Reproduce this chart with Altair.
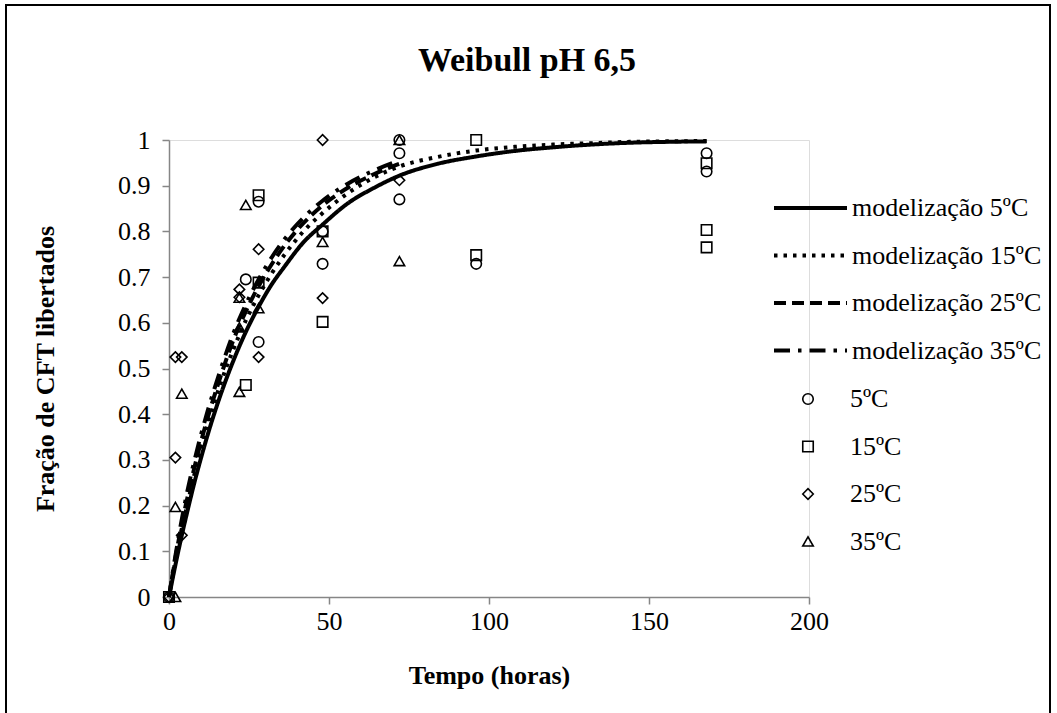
import altair as alt
import pandas as pd

# ---------------- data ----------------
chart_title = "Weibull pH 6,5"
series_names = ["modelização 5ºC", "modelização 15ºC", "modelização 25ºC", "modelização 35ºC"]
point_names = ["5ºC", "15ºC", "25ºC", "35ºC"]

t_model = [0, 2, 4, 6, 8, 10, 12, 16, 20, 24, 28, 32, 36, 42, 48, 56, 64, 72,
           84, 96, 108, 120, 132, 144, 156, 168]
m5 = [0, 0.070, 0.135, 0.195, 0.252, 0.304, 0.353, 0.440, 0.515, 0.580, 0.635, 0.683,
      0.722, 0.776, 0.815, 0.862, 0.895, 0.922, 0.948, 0.964, 0.976, 0.984, 0.990,
      0.994, 0.996, 0.997]
m15 = [0, 0.080, 0.150, 0.210, 0.270, 0.325, 0.375, 0.465, 0.540, 0.605, 0.660, 0.707,
       0.748, 0.800, 0.840, 0.884, 0.918, 0.942, 0.963, 0.977, 0.985, 0.990, 0.993,
       0.996, 0.997, 0.998]
t_model_short = [0, 2, 4, 6, 8, 10, 12, 16, 20, 24, 28, 32, 36, 42, 48, 56, 64, 72]
m25 = [0, 0.085, 0.160, 0.225, 0.285, 0.340, 0.390, 0.480, 0.560, 0.625, 0.680, 0.727,
       0.768, 0.818, 0.857, 0.896, 0.925, 0.948]
m35 = [0, 0.090, 0.170, 0.240, 0.300, 0.355, 0.405, 0.495, 0.575, 0.640, 0.695, 0.742,
       0.782, 0.830, 0.867, 0.905, 0.933, 0.955]

t5 = [0, 24, 28, 28, 48, 48, 72, 72, 72, 96, 168, 168]
y5 = [0, 0.695, 0.865, 0.558, 0.800, 0.729, 1.0, 0.971, 0.870, 0.729, 0.971, 0.931]
t15 = [0, 24, 28, 28, 48, 48, 96, 96, 168, 168, 168]
y15 = [0, 0.464, 0.879, 0.688, 0.800, 0.602, 1.0, 0.748, 0.949, 0.803, 0.765]
t25 = [0, 2, 2, 4, 4, 22, 22, 28, 28, 48, 48, 72]
y25 = [0, 0.525, 0.305, 0.525, 0.135, 0.673, 0.656, 0.761, 0.525, 1.0, 0.654, 0.912]
t35 = [2, 2, 4, 22, 22, 22, 24, 28, 48, 72, 72]
y35 = [0, 0.197, 0.445, 0.655, 0.590, 0.449, 0.858, 0.632, 0.777, 1.0, 0.735]

x_ticks = [0, 50, 100, 150, 200]
y_ticks = [0, 0.1, 0.2, 0.3, 0.4, 0.5, 0.6, 0.7, 0.8, 0.9, 1]

# ---------------- tables ----------------
rows = []
for name, ts, ys in [(series_names[0], t_model, m5), (series_names[1], t_model, m15),
                     (series_names[2], t_model_short, m25), (series_names[3], t_model_short, m35)]:
    for t, v in zip(ts, ys):
        rows.append({"t": t, "f": v, "serie": name})
line_df = pd.DataFrame(rows)

prow = []
for name, ts, ys in [(point_names[0], t5, y5), (point_names[1], t15, y15),
                     (point_names[2], t25, y25), (point_names[3], t35, y35)]:
    for t, v in zip(ts, ys):
        prow.append({"t": t, "f": v, "grupo": name})
pt_df = pd.DataFrame(prow)

FONT = "'Liberation Serif', 'Times New Roman', serif"
W, H = 640, 457
PL, PT = 169, 140

xscale = alt.Scale(domain=[0, 200], nice=False)
yscale = alt.Scale(domain=[0, 1], nice=False)

xaxis = alt.Axis(values=x_ticks, grid=False, domainColor="#868686", domainWidth=1.5,
                 tickColor="#868686", tickWidth=1.5, tickSize=7, labelFont=FONT,
                 labelFontSize=26, labelColor="black", labelPadding=4, labelFlush=False,
                 titleFont=FONT, titleFontSize=26, titleFontWeight="bold", titleColor="black",
                 titleX=W / 2, titleY=78, titleBaseline="middle", titleAlign="center")
yaxis = alt.Axis(values=y_ticks, format=".1~f", grid=False, domainColor="#868686",
                 domainWidth=1.5, tickColor="#868686", tickWidth=1.5, tickSize=7,
                 labelFont=FONT, labelFontSize=26, labelColor="black", labelPadding=12,
                 labelFlush=False,
                 titleFont=FONT, titleFontSize=26, titleFontWeight="bold", titleColor="black",
                 titleAngle=270, titleX=45 - PL, titleY=H / 2, titleBaseline="middle",
                 titleAlign="center")

dash_range = [[1, 0], [3.5, 6], [12, 6], [16, 8, 3.5, 8]]

lines = alt.Chart(line_df).mark_line(
    strokeWidth=4, color="black", interpolate="monotone", strokeCap="butt", clip=False
).encode(
    x=alt.X("t:Q", scale=xscale, axis=xaxis, title="Tempo (horas)"),
    y=alt.Y("f:Q", scale=yscale, axis=yaxis, title="Fração de CFT libertados"),
    strokeDash=alt.StrokeDash(
        "serie:N",
        scale=alt.Scale(domain=series_names, range=dash_range),
        legend=alt.Legend(
            title=None, orient="none", legendX=772 - PL, legendY=198 - PT,
            symbolType="stroke", symbolSize=73 * 73, symbolStrokeWidth=4,
            symbolStrokeColor="black", clipHeight=20, labelFont=FONT, labelFontSize=26,
            labelColor="black", labelOffset=3, rowPadding=21.5, padding=0, labelLimit=400,
        ),
    ),
    order=alt.Order("t:Q"),
)

points = alt.Chart(pt_df).mark_point(
    filled=False, size=110, strokeWidth=1.6, color="black", opacity=1, clip=False
).encode(
    x=alt.X("t:Q", scale=xscale),
    y=alt.Y("f:Q", scale=yscale),
    shape=alt.Shape(
        "grupo:N",
        scale=alt.Scale(domain=point_names, range=["circle", "square", "diamond", "triangle-up"]),
        legend=alt.Legend(
            title=None, orient="none", legendX=795 - PL, legendY=386 - PT,
            symbolSize=110, symbolStrokeWidth=1.6, symbolStrokeColor="black",
            symbolFillColor="transparent", labelFont=FONT, labelFontSize=26,
            labelColor="black", labelOffset=29, rowPadding=21.5, padding=0, labelLimit=400,
        ),
    ),
)

border = alt.Chart(alt.Data(values=[{"k": 1}])).mark_rect(
    fillOpacity=0, stroke="black", strokeWidth=2
).encode(
    x=alt.value(6 - PL), x2=alt.value(1050 - PL), y=alt.value(5 - PT), y2=alt.value(730 - PT)
)

title_df = pd.DataFrame({"label": [chart_title]})
title = alt.Chart(title_df).mark_text(
    font=FONT, fontSize=34, fontWeight="bold", color="black", align="center",
    baseline="middle"
).encode(
    text="label:N", x=alt.value(527 - PL), y=alt.value(61 - PT)
)

chart = alt.layer(border, lines, points, title).properties(
    width=W, height=H,
    padding={"left": PL, "top": PT, "right": 1057 - PL - W, "bottom": 713 - PT - H},
    autosize=alt.AutoSizeParams(type="none"),
).configure_view(strokeWidth=0).configure(background="white")

chart.save("out.html", embed_options={"renderer": "svg", "actions": False})
